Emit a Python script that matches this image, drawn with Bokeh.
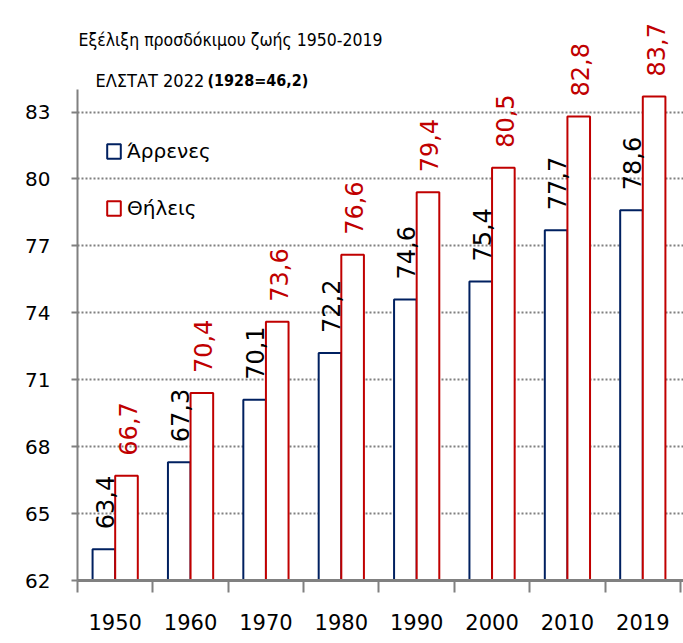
import numpy as np
from bokeh.plotting import figure
from bokeh.models import (ColumnDataSource, FixedTicker, Legend, LegendItem,
                          Label, Range1d)
from bokeh.transform import dodge
from bokeh.core.properties import value
from bokeh.embed import file_html
from bokeh.resources import INLINE

# ---- data ----
years = ["1950", "1960", "1970", "1980", "1990", "2000", "2010", "2019"]
male = [63.4, 67.3, 70.1, 72.2, 74.6, 75.4, 77.7, 78.6]
female = [66.7, 70.4, 73.6, 76.6, 79.4, 80.5, 82.8, 83.7]
y_ticks = [62, 65, 68, 71, 74, 77, 80, 83]
series_names = ["Άρρενες", "Θήλεις"]
title_line1 = "Εξέλιξη προσδόκιμου ζωής 1950-2019"
title_line2a = "ΕΛΣΤΑΤ  2022"
title_line2b = "(1928=46,2)"

MALE_C = "#002060"
FEMALE_C = "#C00000"
GRAY = "#808080"

pos = np.arange(len(years)) + 0.5
fmt = lambda v: f"{v:.1f}".replace(".", ",")
src = ColumnDataSource(dict(
    x=pos, male=male, female=female,
    male_lbl=[fmt(v) for v in male],
    female_lbl=[fmt(v) for v in female],
))

p = figure(width=683, height=643, title=None,
           x_range=Range1d(0, len(years) + 0.04), y_range=Range1d(62, 88.0),
           output_backend="svg", toolbar_location=None,
           min_border_left=77, min_border_right=0,
           min_border_top=0, min_border_bottom=63)
p.background_fill_color = "white"
p.border_fill_color = "white"
p.outline_line_color = None

base = y_ticks[0]
r_m = p.vbar(x=dodge("x", -0.15), top="male", bottom=base, width=0.3, source=src,
             fill_color="white", line_color=MALE_C, line_width=2)
r_f = p.vbar(x=dodge("x", 0.15), top="female", bottom=base, width=0.3, source=src,
             fill_color="white", line_color=FEMALE_C, line_width=2)

p.text(x=dodge("x", -0.14), y="male", text="male_lbl", source=src,
       angle=np.pi / 2, text_align="left", text_baseline="middle", y_offset=-20,
       text_font=value("DejaVu Sans"), text_font_size="24px", text_color="black")
p.text(x=dodge("x", 0.17), y="female", text="female_lbl", source=src,
       angle=np.pi / 2, text_align="left", text_baseline="middle", y_offset=-20,
       text_font=value("DejaVu Sans"), text_font_size="24px", text_color=FEMALE_C)

# ---- axes ----
yax = p.yaxis[0]
yax.ticker = FixedTicker(ticks=y_ticks)
yax.bounds = (62, 84)
yax.axis_line_color = GRAY
yax.axis_line_width = 2
yax.major_tick_line_color = GRAY
yax.major_tick_line_width = 2
yax.major_tick_out = 6
yax.major_tick_in = 0
yax.minor_tick_line_color = None
yax.major_label_text_font = "DejaVu Sans"
yax.major_label_text_font_size = "20px"
yax.major_label_text_color = "black"
yax.major_label_standoff = 21

xax = p.xaxis[0]
xax.ticker = FixedTicker(ticks=list(pos), minor_ticks=list(range(len(years) + 1)))
xax.major_label_overrides = {float(x): y for x, y in zip(pos, years)}
xax.axis_line_color = GRAY
xax.axis_line_width = 3
xax.major_tick_line_color = None
xax.major_tick_out = 0
xax.major_tick_in = 0
xax.minor_tick_line_color = GRAY
xax.minor_tick_line_width = 2
xax.minor_tick_out = 12
xax.minor_tick_in = 0
xax.major_label_text_font = "DejaVu Sans"
xax.major_label_text_font_size = "21px"
xax.major_label_text_color = "black"
xax.major_label_standoff = 21

p.xgrid.visible = False
p.ygrid.grid_line_color = GRAY
p.ygrid.grid_line_width = 2
p.ygrid.grid_line_dash = "2 2"

# ---- legend ----
legend = Legend(items=[LegendItem(label=series_names[0], renderers=[r_m]),
                       LegendItem(label=series_names[1], renderers=[r_f])],
                location=(28, 360), orientation="vertical")
legend.border_line_color = None
legend.background_fill_alpha = 0
legend.padding = 0
legend.margin = 0
legend.spacing = 33
legend.glyph_width = 17
legend.glyph_height = 18
legend.label_height = 20
legend.label_standoff = 5
legend.label_text_font = "DejaVu Sans"
legend.label_text_font_size = "20px"
legend.label_text_color = "black"
p.add_layout(legend, "center")

# ---- titles (screen units, relative to the plot frame) ----
common = dict(x_units="screen", y_units="screen", text_baseline="middle",
              text_align="left", text_color="black")
p.add_layout(Label(x=1, y=541, text=title_line1, text_font="DejaVu Sans Condensed",
                   text_font_size="17.5px", **common))
p.add_layout(Label(x=18, y=500, text=title_line2a, text_font="DejaVu Sans Condensed",
                   text_font_size="18px", **common))
p.add_layout(Label(x=130, y=500, text=title_line2b, text_font="DejaVu Sans Condensed",
                   text_font_size="16px", text_font_style="bold", **common))

open("out.html", "w").write(file_html(p, INLINE))
